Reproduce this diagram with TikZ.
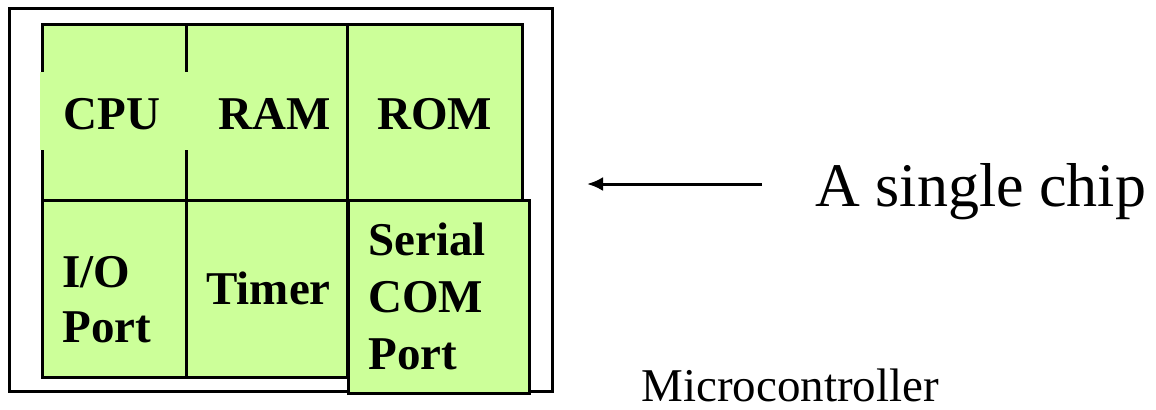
\documentclass[tikz,border=0pt]{standalone}
\usepackage{fontspec}
\setmainfont{Liberation Serif}
\usetikzlibrary{arrows.meta}
\definecolor{cellgreen}{HTML}{CCFF99}
\tikzset{
  cell/.style={draw=black, fill=cellgreen, line width=1.5pt, rectangle, inner sep=0pt, outer sep=0pt},
  lbl/.style={anchor=base west, inner sep=0pt, font=\fontsize{23.5}{28}\selectfont\bfseries},
  plain/.style={anchor=base west, inner sep=0pt},
}
\begin{document}
\begin{tikzpicture}[x=0.5pt, y=-0.5pt]
\useasboundingbox (0,0) rectangle (1156,409);
% outer chip frame
\node[draw=black, line width=1.5pt, fill=white, rectangle, inner sep=0pt,
      minimum width=271.25pt, minimum height=191.5pt] (chip) at (280.75,199.5) {};
% cells
\node[cell, minimum width=72pt,   minimum height=87.75pt] (cpu)   at (114,112.25) {};
\node[cell, minimum width=80.5pt, minimum height=87.75pt] (ram)   at (266.5,112.25) {};
\node[cell, minimum width=87.5pt, minimum height=87.75pt] (rom)   at (434.5,112.25) {};
\node[cell, minimum width=72pt,   minimum height=88.5pt]  (io)    at (114,288.5) {};
\node[cell, minimum width=80.5pt, minimum height=88.5pt]  (timer) at (266.5,288.5) {};
% patch over CPU borders (as in the reference)
\fill[cellgreen] (40,72) rectangle (188,150);
\node[cell, minimum width=90.5pt, minimum height=96.5pt]  (serial) at (438.5,296.5) {};
% labels
\node[lbl] (cpul)   at (63,129.5) {CPU};
\node[lbl] (raml)   at (218,129.5) {RAM};
\node[lbl] (roml)   at (377,129.5) {ROM};
\node[lbl] (iol1)   at (62,287) {I/O};
\node[lbl] (iol2)   at (62,342) {Port};
\node[lbl] (timerl) at (206,304) {Timer};
\node[lbl] (serl1)  at (368,255) {Serial};
\node[lbl] (serl2)  at (368,312) {COM};
\node[lbl] (serl3)  at (368,369) {Port};
% annotation
\node[plain, font=\fontsize{31}{36}\selectfont] (single) at (815,206.5) {A single chip};
\node[plain, font=\fontsize{23.5}{28}\selectfont] (mc) at (641,401.5) {Microcontroller};
\coordinate (arrtail) at (762,184);
\coordinate (arrtip) at (587,184);
\draw[line width=1.5pt, -{Latex[length=8pt, width=7pt]}] (arrtail) -- (arrtip);
\end{tikzpicture}
\end{document}
